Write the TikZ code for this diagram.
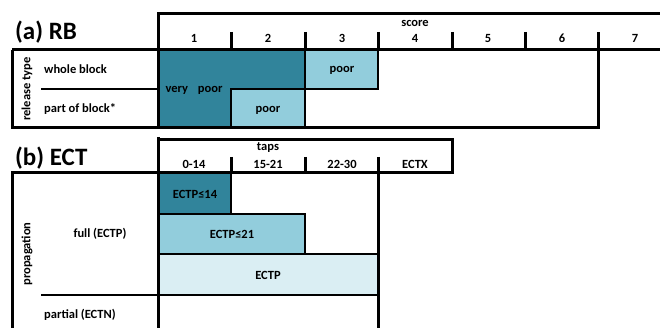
\documentclass[tikz,border=0pt]{standalone}
\usepackage{fontspec}
\setmainfont{Carlito}
\definecolor{dteal}{HTML}{31849B}
\definecolor{lblue}{HTML}{92CDDC}
\definecolor{vlblue}{HTML}{DAEEF3}
\tikzset{
  thk/.style={line width=3pt},
  med/.style={line width=2pt},
  lbl/.style={font=\fontsize{12.5}{14}\selectfont\bfseries, inner sep=0pt, anchor=base},
  lbll/.style={lbl, anchor=base west},
  big/.style={font=\fontsize{25}{28}\selectfont\bfseries, inner sep=0pt, anchor=base west},
}
\begin{document}
\begin{tikzpicture}[x=1pt,y=-1pt]
\useasboundingbox (0,0) rectangle (660,328);
\clip (0,0) rectangle (660,328);
\fill[white] (0,0) rectangle (660,328);

% ---------------- (a) RB ----------------
\fill[dteal] (158,50) -- (305,50) -- (305,89) -- (231,89) -- (231,128) -- (158,128) -- cycle;
\fill[lblue] (305,50) rectangle (378,89);
\fill[lblue] (231,89) rectangle (305,128);
\draw[med] (305,50) -- (305,89) -- (231,89) -- (231,128);
\draw[med] (305,89) -- (378,89) -- (378,50);
\draw[med] (305,89) -- (305,128);
\draw[med] (41,89) -- (158,89);

\draw[thk] (660,14) -- (158,14) -- (158,128);
\draw[thk] (12,50) -- (660,50);
\draw[thk] (12,50) -- (12,128) -- (598,128) -- (598,32);
\foreach \x in {231,305,378,452,525} \draw[thk] (\x,32) -- (\x,50);

\node[big] (ta) at (15,40) {(a) RB};
\node[lbl] (score) at (415,27) {score};
\foreach \n/\x in {1/194,2/268,3/342,4/415,5/488,6/562,7/635}
  \node[lbl] (c\n) at (\x,43) {\n};
\node[lbl, rotate=90, anchor=center] (rt) at (27,89) {release type};
\node[lbll] (wb) at (44,74) {whole block};
\node[lbll] (pb) at (44,113) {part of block*};
\node[lbl] (vp) at (194,93) {very\hspace{7pt} poor};
\node[lbl] (p1) at (342,73) {poor};
\node[lbl] (p2) at (268,113) {poor};

% ---------------- (b) ECT ----------------
\fill[dteal] (158,173) rectangle (231,214);
\fill[lblue] (158,214) rectangle (305,254);
\fill[vlblue] (158,254) rectangle (378,295);
\draw[med] (158,214) -- (231,214) -- (231,173);
\draw[med] (231,214) -- (305,214) -- (305,254);
\draw[med] (158,254) -- (378,254);
\draw[med] (41,295) -- (378,295);

\draw[thk] (158,137) -- (158,330);
\draw[thk] (158,140) -- (452,140) -- (452,173) -- (12,173) -- (12,330);
\draw[thk] (378,157) -- (378,330);
\foreach \x in {231,305} \draw[thk] (\x,157) -- (\x,173);

\node[big] (tb) at (15,166) {(b) ECT};
\node[lbl] (taps) at (268,151) {taps};
\node[lbl] (t1) at (194,169) {0-14};
\node[lbl] (t2) at (268,169) {15-21};
\node[lbl] (t3) at (342,169) {22-30};
\node[lbl] (t4) at (415,169) {ECTX};
\node[lbl] (e14) at (195,199) {ECTP≤14};
\node[lbl] (e21) at (232,239) {ECTP≤21};
\node[lbl] (e) at (268,279) {ECTP};
\node[lbl, rotate=90, anchor=center] (prop) at (27,254) {propagation};
\node[lbl] (full) at (100,238) {full (ECTP)};
\node[lbll] (part) at (44,318) {partial (ECTN)};
\end{tikzpicture}
\end{document}
